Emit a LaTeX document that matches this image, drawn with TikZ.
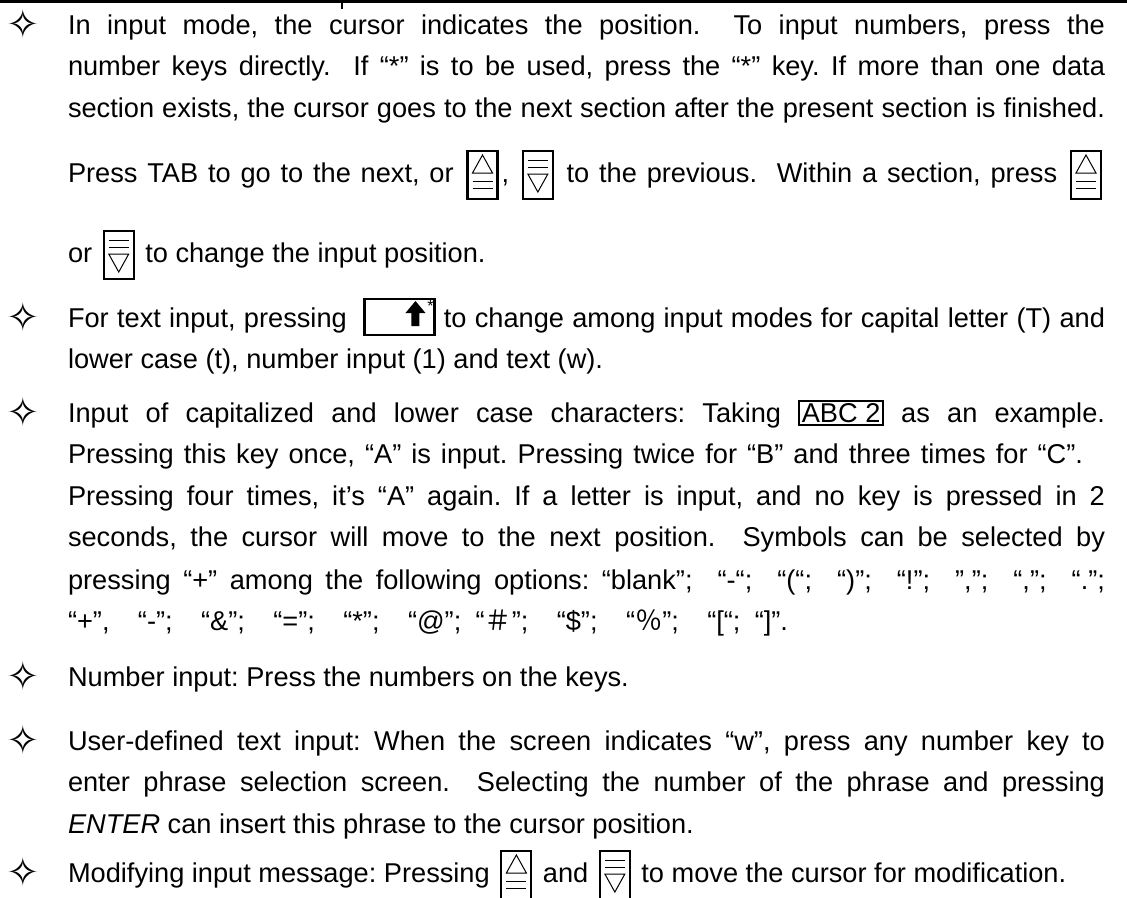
\documentclass[tikz,border=0pt]{standalone}
\usepackage{fontspec}
\setmainfont{Liberation Sans}
\newfontfamily\symfont{DejaVu Sans}
\newfontfamily\cjkfont{Noto Sans CJK SC}
\frenchspacing

\tikzset{
  textline/.style={anchor=base west, inner sep=0pt, outer sep=0pt},
  bullet/.style={anchor=center, inner sep=0pt, font=\symfont\fontsize{40}{40}\selectfont},
  keyframe/.style={line width=2.2pt},
  keymark/.style={line width=1pt},
}

\newlength{\tw}\setlength{\tw}{1037pt}
\newcommand{\jline}[2][\tw]{\makebox[#1][s]{#2}}

% key glyphs set inside the text
\newcommand{\upkey}{\tikz[x=1pt,y=1pt,baseline=0pt]{%
  \path (-4,0) (34,0);
  \draw[keyframe] (0,-17) rectangle (30,31);
  \draw[keymark] (5,9) -- (25,9) -- (15,27) -- cycle;
  \draw[keymark] (5,1) -- (25,1) (5,-6) -- (25,-6);}}
\newcommand{\downkey}{\tikz[x=1pt,y=1pt,baseline=0pt]{%
  \path (-4,0) (34,0);
  \draw[keyframe] (0,-17) rectangle (30,31);
  \draw[keymark] (5,22) -- (25,22) (5,15) -- (25,15);
  \draw[keymark] (5,8) -- (25,8) -- (15,-10) -- cycle;}}
\newcommand{\shiftkey}{\tikz[x=1pt,y=1pt,baseline=0pt]{%
  \draw[keyframe] (0,-8) rectangle (70,28);
  \fill (51,26) -- (61,14) -- (55,14) -- (55,1) -- (47,1) -- (47,14) -- (41,14) -- cycle;
  \node[anchor=north east, inner sep=1pt, font=\fontsize{16}{16}\selectfont] (shiftstar) at (70,28) {*};}}
\newcommand{\abckey}[1]{{\setlength{\fboxrule}{2pt}\setlength{\fboxsep}{1.5pt}\fbox{#1}}}

\begin{document}
\begin{tikzpicture}[x=1pt,y=-1pt,font=\fontsize{27.2}{32}\selectfont]
	\useasboundingbox (0,0) rectangle (1127,897);
	
	%Straight Lines [top rule]
	\draw[line width=2.4pt] (0,1.5) -- (1127,1.5);
	\draw[line width=1.2pt] (342,2) -- (342,9);
	
	% Bullets
	\node[bullet] (b1) at (23,24) {✧};
	\node[bullet] (b2) at (23,317) {✧};
	\node[bullet] (b3) at (23,412) {✧};
	\node[bullet] (b4) at (23,676) {✧};
	\node[bullet] (b5) at (23,740) {✧};
	\node[bullet] (b6) at (23,872) {✧};
	
	% Text Node
	\node[textline] (l1) at (68,34) {\jline{In input mode, the cursor indicates the position.\ \ To input numbers, press the}};
	% Text Node
	\node[textline] (l2) at (68,75) {\jline{number keys directly.\ \ If “*” is to be used, press the “*” key. If more than one data}};
	% Text Node
	\node[textline] (l3) at (68,117) {\jline{section exists, the cursor goes to the next section after the present section is finished.}};
	% Text Node
	\node[textline] (l4) at (68,182) {\jline{Press TAB to go to the next, or \upkey, \downkey{} to the previous.\ \ Within a section, press \upkey}};
	% Text Node
	\node[textline] (l5) at (68,262) {or \downkey{} to change the input position.};
	% Text Node
	\node[textline] (l6) at (68,327) {\jline{For text input, pressing \ \shiftkey{} to change among input modes for capital letter (T) and}};
	% Text Node
	\node[textline] (l7) at (68,368) {lower case (t), number input (1) and text (w).};
	% Text Node
	\node[textline] (l8) at (68,422) {\jline{Input of capitalized and lower case characters: Taking \abckey{ABC 2} as an example.}};
	% Text Node
	\node[textline] (l9) at (68,463) {\jline[1015pt]{Pressing this key once, “A” is input. Pressing twice for “B” and three times for “C”.}};
	% Text Node
	\node[textline] (l10) at (68,505) {\jline{Pressing four times, it’s “A” again. If a letter is input, and no key is pressed in 2}};
	% Text Node
	\node[textline] (l11) at (68,546) {\jline{seconds, the cursor will move to the next position.\ \ Symbols can be selected by}};
	% Text Node
	\node[textline] (l12) at (68,589) {\jline{pressing “+” among the following options: “blank”;\ \ “-“;\ \ “(“;\ \ “)”;\ \ “!”;\ \ ”,”;\ \ “,”;\ \ “.”;}};
	% Text Node
	\node[textline] (l13) at (68,630) {\jline[720pt]{“+”,\ \ “-”;\ \ “\&”;\ \ “=”;\ \ “*”;\ \ “@”; “{\cjkfont ＃}”;\ \ “\$”;\ \ “{\cjkfont ％}”;\ \ “[“; “]”.}};
	% Text Node
	\node[textline] (l14) at (68,686) {Number input: Press the numbers on the keys.};
	% Text Node
	\node[textline] (l15) at (68,750) {\jline{User-defined text input: When the screen indicates “w”, press any number key to}};
	% Text Node
	\node[textline] (l16) at (68,791) {\jline{enter phrase selection screen.\ \ Selecting the number of the phrase and pressing}};
	% Text Node
	\node[textline] (l17) at (68,833) {\textit{ENTER} can insert this phrase to the cursor position.};
	% Text Node
	\node[textline] (l18) at (68,882) {Modifying input message: Pressing \upkey{} and \downkey{} to move the cursor for modification.};
	
\end{tikzpicture}
\end{document}
